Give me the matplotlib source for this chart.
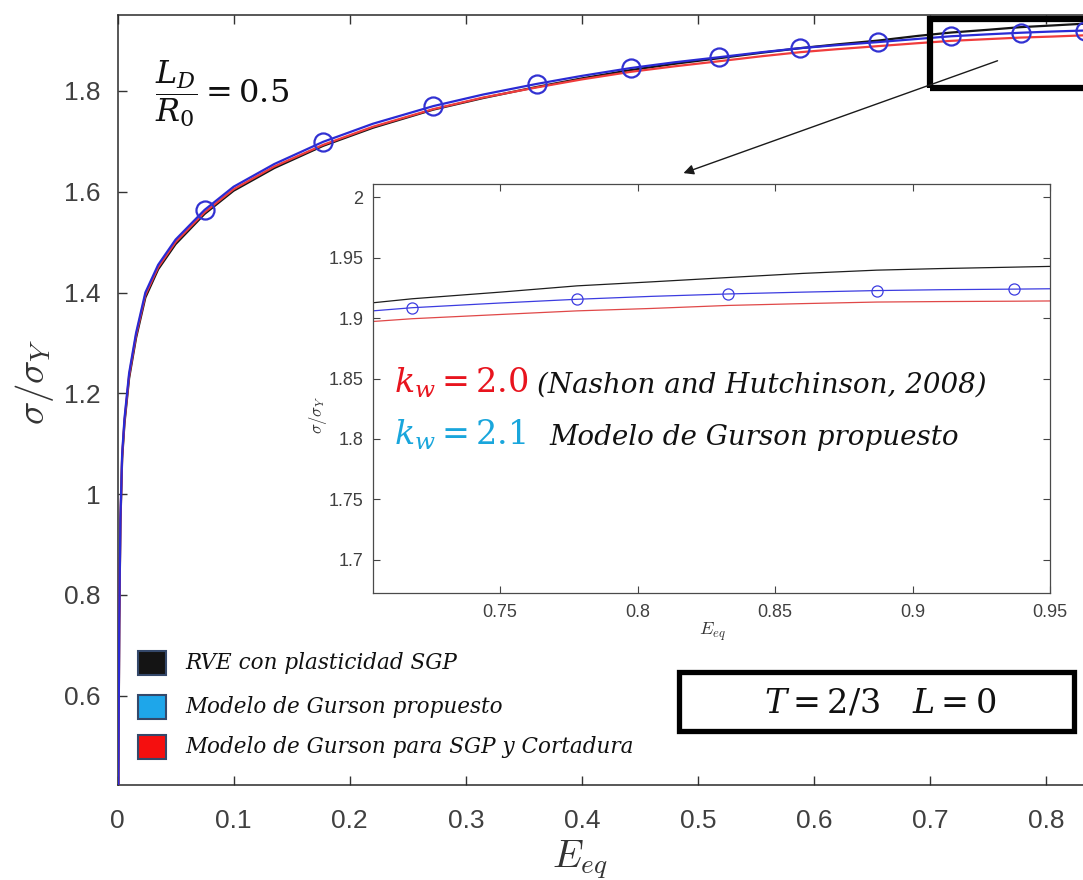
import matplotlib
matplotlib.use("Agg")
import matplotlib.pyplot as plt
from matplotlib.patches import Rectangle
from matplotlib.ticker import FuncFormatter, FixedLocator

# Equivalent strain and normalised stress for the three models
strain = [0.0, 0.0008, 0.0015, 0.0025, 0.004, 0.006, 0.01, 0.016, 0.024, 0.035,
          0.05, 0.075, 0.1, 0.135, 0.177, 0.22, 0.272, 0.315, 0.361, 0.40,
          0.442, 0.48, 0.518, 0.555, 0.588, 0.62, 0.655, 0.69, 0.718, 0.75,
          0.778, 0.805, 0.833, 0.86, 0.887, 0.91, 0.937, 0.95]

rve_sgp = [0.0, 0.44, 0.74, 0.94, 1.07, 1.14, 1.23, 1.31, 1.39, 1.446,
           1.496, 1.556, 1.602, 1.647, 1.691, 1.727, 1.763, 1.786, 1.808, 1.825,
           1.8415, 1.854, 1.865, 1.876, 1.885, 1.8925, 1.900, 1.9095, 1.916, 1.9215,
           1.9267, 1.930, 1.9336, 1.937, 1.9397, 1.941, 1.9422, 1.9428]

gurson_new = [0.0, 0.45, 0.75, 0.95, 1.08, 1.15, 1.24, 1.32, 1.40, 1.455,
              1.505, 1.564, 1.61, 1.655, 1.699, 1.735, 1.770, 1.793, 1.814, 1.830,
              1.8455, 1.857, 1.867, 1.877, 1.885, 1.891, 1.897, 1.9035, 1.9086, 1.9125,
              1.9156, 1.918, 1.920, 1.9215, 1.9228, 1.9235, 1.924, 1.9243]

gurson_sgp = [0.0, 0.445, 0.745, 0.945, 1.075, 1.145, 1.235, 1.315, 1.395, 1.45,
              1.50, 1.559, 1.605, 1.65, 1.693, 1.729, 1.764, 1.787, 1.807, 1.823,
              1.838, 1.849, 1.859, 1.869, 1.877, 1.883, 1.889, 1.895, 1.8995, 1.903,
              1.906, 1.908, 1.9105, 1.912, 1.9133, 1.9137, 1.914, 1.9142]

# strain increments where the proposed model is marked
marker_idx = [11, 14, 16, 18, 20, 22, 24, 26, 28, 30, 32, 34, 36]

main_xticks = [0, 0.1, 0.2, 0.3, 0.4, 0.5, 0.6, 0.7, 0.8]
main_yticks = [0.6, 0.8, 1.0, 1.2, 1.4, 1.6, 1.8]
zoom_xticks = [0.75, 0.8, 0.85, 0.9, 0.95]
zoom_yticks = [1.7, 1.75, 1.8, 1.85, 1.9, 1.95, 2.0]

legend_labels = ["RVE con plasticidad SGP",
                 "Modelo de Gurson propuesto",
                 "Modelo de Gurson para SGP y Cortadura"]
legend_colors = ["#141414", "#1ea6ea", "#f50f0f"]

C_RVE = "#151515"
C_NEW = "#2a2ad4"
C_SGP = "#f03c3c"
SERIF = "DejaVu Serif"

W, H = 1083, 880
fig = plt.figure(figsize=(W / 100, H / 100), dpi=100)
fig.patch.set_facecolor("white")


def fx(x):
    return x / W


def fy(y):
    return 1 - y / H


fmt = FuncFormatter(lambda v, p: "%g" % round(v, 4))

# ---------------- main axes ----------------
ax = fig.add_axes([fx(117.5), fy(785), 1161 / W, 770 / H])
ax.plot(strain, rve_sgp, color=C_RVE, lw=1.6, zorder=3)
ax.plot(strain, gurson_sgp, color=C_SGP, lw=1.6, zorder=4)
ax.plot(strain, gurson_new, color=C_NEW, lw=1.6, zorder=5,
        marker="o", markevery=marker_idx, ms=13, mfc="none",
        mec="#3232d2", mew=1.6)
ax.set_xlim(0, 1)
ax.set_ylim(0.4226, 1.9508)
ax.xaxis.set_major_locator(FixedLocator(main_xticks))
ax.yaxis.set_major_locator(FixedLocator(main_yticks))
ax.xaxis.set_major_formatter(fmt)
ax.yaxis.set_major_formatter(fmt)
ax.tick_params(direction="in", length=6.5, width=1.0, top=True, right=True,
               labelsize=19, labelcolor="#404040", color="#333333")
ax.tick_params(axis="x", pad=17)
ax.tick_params(axis="y", pad=12)
for sp in ax.spines.values():
    sp.set_linewidth(1.1)
    sp.set_color("#2a2a2a")
for lab in ax.get_xticklabels() + ax.get_yticklabels():
    lab.set_family("Liberation Sans")

# zoom window and arrow
ax.add_patch(Rectangle((0.700, 1.806), 0.30, 0.137, fill=False,
                       edgecolor="black", lw=4.5, zorder=6, clip_on=False))
ax.annotate("", xy=(0.4875, 1.637), xytext=(0.758, 1.86),
            arrowprops=dict(arrowstyle="-|>", color="#1a1a1a", lw=1.0,
                            mutation_scale=15, shrinkA=0, shrinkB=0),
            zorder=6)

# ---------------- inset ----------------
ax2 = fig.add_axes([fx(373), fy(593), 677 / W, 409 / H])
ax2.plot(strain, rve_sgp, color="#1e1e1e", lw=0.9)
ax2.plot(strain, gurson_sgp, color="#e04848", lw=0.9)
ax2.plot(strain, gurson_new, color="#3c3ce0", lw=0.9,
         marker="o", markevery=marker_idx, ms=8, mfc="none",
         mec="#3c3ce0", mew=0.9)
ax2.set_xlim(0.7038, 0.95)
ax2.set_ylim(1.6725, 2.011)
ax2.xaxis.set_major_locator(FixedLocator(zoom_xticks))
ax2.yaxis.set_major_locator(FixedLocator(zoom_yticks))
ax2.xaxis.set_major_formatter(fmt)
ax2.yaxis.set_major_formatter(fmt)
ax2.tick_params(direction="in", length=5, width=0.8, top=True, right=True,
                labelsize=13, labelcolor="#404040", color="#444444")
ax2.tick_params(axis="x", pad=8)
ax2.tick_params(axis="y", pad=7)
for sp in ax2.spines.values():
    sp.set_linewidth(0.9)
    sp.set_color("#4a4a4a")
for lab in ax2.get_xticklabels() + ax2.get_yticklabels():
    lab.set_family("Liberation Sans")

fig.text(fx(712), fy(632), r"$E_{eq}$", math_fontfamily="cm", fontsize=13,
         ha="center", va="center", color="#333333")
fig.text(fx(318), fy(415), r"$\sigma/\sigma_Y$", math_fontfamily="cm",
         fontsize=12, ha="center", va="center", rotation=90, color="#333333")

# inset annotations
fig.text(fx(394), fy(393), r"$k_w = 2.0$", math_fontfamily="dejavuserif",
         fontsize=24, color="#e8141e", ha="left", va="baseline")
fig.text(fx(537), fy(393), "(Nashon and Hutchinson, 2008)",
         family=SERIF, style="italic", fontsize=20, color="#111111",
         ha="left", va="baseline")
fig.text(fx(394), fy(445), r"$k_w = 2.1$", math_fontfamily="dejavuserif",
         fontsize=24, color="#19a6dc", ha="left", va="baseline")
fig.text(fx(549), fy(445), "Modelo de Gurson propuesto",
         family=SERIF, style="italic", fontsize=20, color="#111111",
         ha="left", va="baseline")

# ---------------- labels and annotations on the main axes ----------------
fig.text(fx(34), fy(382), r"$\sigma/\sigma_Y$", math_fontfamily="cm",
         fontsize=28, ha="center", va="center", rotation=90, color="#333333")
fig.text(fx(580), fy(860), r"$E_{eq}$", math_fontfamily="cm", fontsize=28,
         ha="center", va="center", color="#333333")

fig.text(fx(155), fy(94), r"$\dfrac{L_D}{R_0} = 0.5$",
         math_fontfamily="dejavuserif", fontsize=23, ha="left", va="center",
         color="#111111")

# parameter box
fig.add_artist(Rectangle((fx(679), fy(731)), 395 / W, 59 / H, fill=False,
                         edgecolor="black", lw=3.8,
                         transform=fig.transFigure))
fig.text(fx(880), fy(703), r"$T = 2/3\ \ \ L = 0$",
         math_fontfamily="dejavuserif", fontsize=24, ha="center", va="center",
         color="#111111")

# legend
legend_rows = [663, 707, 747]
for lab, col, yc in zip(legend_labels, legend_colors, legend_rows):
    fig.add_artist(Rectangle((fx(138), fy(yc + 12)), 28 / W, 24 / H,
                             facecolor=col, edgecolor="#34486a", lw=1.5,
                             transform=fig.transFigure))
    fig.text(fx(185), fy(yc), lab, family=SERIF, style="italic",
             fontsize=15.5, ha="left", va="center", color="#111111")

fig.savefig("out.png", dpi=100, facecolor="white")
